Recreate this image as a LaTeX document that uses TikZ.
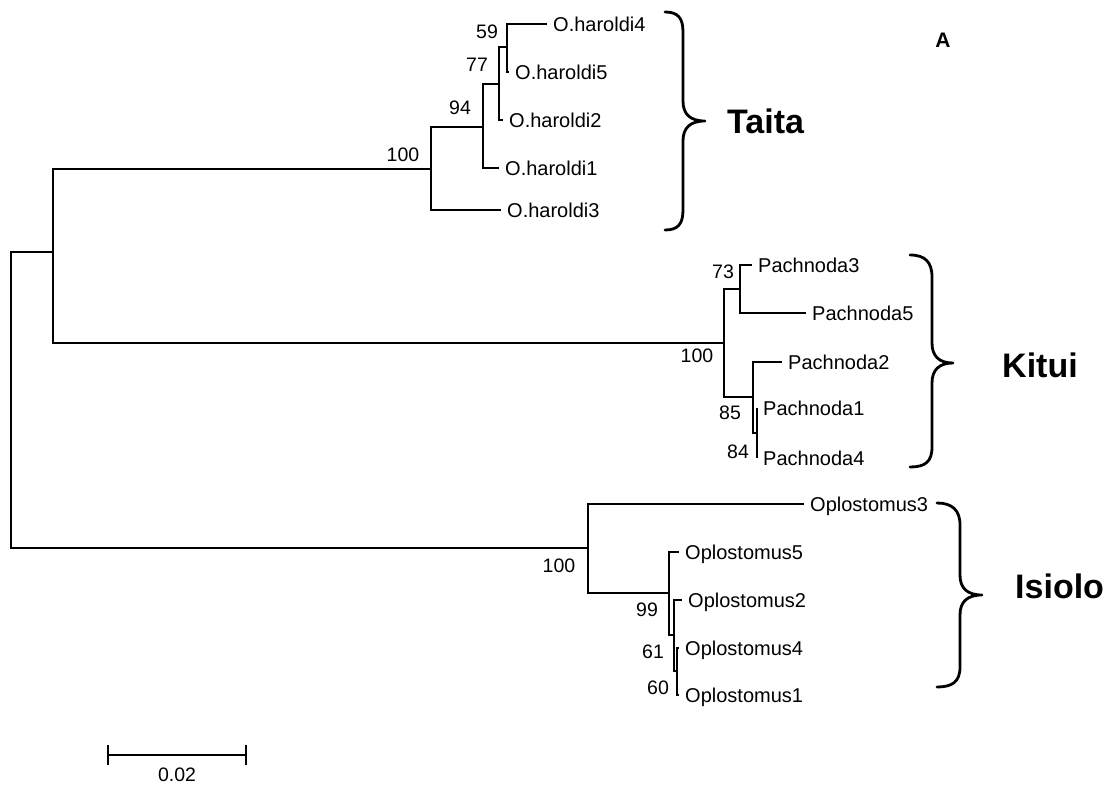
\documentclass[tikz,border=0pt]{standalone}
\usepackage{fontspec}
\setmainfont{Liberation Sans}
\begin{document}
\begin{tikzpicture}[x=1pt,y=-1pt,
  branch/.style={draw=black, line width=2.6pt},
  bracepath/.style={draw=black, line width=2.8pt, line cap=round, line join=round},
  leaf/.style={anchor=base west, inner sep=0pt, font=\fontsize{20}{24}\selectfont},
  bs/.style={inner sep=0pt, font=\fontsize{19.5}{24}\selectfont},
  clade/.style={anchor=base west, inner sep=0pt, font=\fontsize{34}{40}\selectfont\bfseries},
]
\useasboundingbox (0,0) rectangle (1112,787);
% internal nodes
\coordinate (root) at (11,400);
\coordinate (inner) at (53,252);
\coordinate (t100) at (431,169);
\coordinate (t94) at (483,127);
\coordinate (t77) at (499,84);
\coordinate (t59) at (507,47);
\coordinate (k100) at (724,343);
\coordinate (k73) at (740,289);
\coordinate (k85) at (753,397);
\coordinate (k84) at (757,433);
\coordinate (i100) at (588,548);
\coordinate (i99) at (669,593);
\coordinate (i61) at (674,635);
\coordinate (i60) at (677,671);
% leaf ends
\coordinate (h4e) at (547,24);
\coordinate (h5e) at (509,72);
\coordinate (h2e) at (503,120);
\coordinate (h1e) at (499,168);
\coordinate (h3e) at (501,210);
\coordinate (p3e) at (752,265);
\coordinate (p5e) at (806,313);
\coordinate (p2e) at (782,362);
\coordinate (p1e) at (757,408);
\coordinate (p4e) at (757,458);
\coordinate (o3e) at (804,504);
\coordinate (o5e) at (679,552);
\coordinate (o2e) at (682,600);
\coordinate (o4e) at (679,648);
\coordinate (o1e) at (679,695);
% branches
\draw[branch] (root) |- (inner);
\draw[branch] (root) |- (i100);
\draw[branch] (inner) |- (t100);
\draw[branch] (inner) |- (k100);
\draw[branch] (t100) |- (t94);
\draw[branch] (t100) |- (h3e);
\draw[branch] (t94) |- (t77);
\draw[branch] (t94) |- (h1e);
\draw[branch] (t77) |- (t59);
\draw[branch] (t77) |- (h2e);
\draw[branch] (t59) |- (h4e);
\draw[branch] (t59) |- (h5e);
\draw[branch] (k100) |- (k73);
\draw[branch] (k100) |- (k85);
\draw[branch] (k73) |- (p3e);
\draw[branch] (k73) |- (p5e);
\draw[branch] (k85) |- (p2e);
\draw[branch] (k85) |- (k84);
\draw[branch] (k84) |- (p1e);
\draw[branch] (k84) |- (p4e);
\draw[branch] (i100) |- (o3e);
\draw[branch] (i100) |- (i99);
\draw[branch] (i99) |- (o5e);
\draw[branch] (i99) |- (i61);
\draw[branch] (i61) |- (o2e);
\draw[branch] (i61) |- (i60);
\draw[branch] (i60) |- (o4e);
\draw[branch] (i60) |- (o1e);
% leaf labels
\node[leaf] (h4) at ([shift={(6,7)}]h4e) {O.haroldi4};
\node[leaf] (h5) at ([shift={(6,7)}]h5e) {O.haroldi5};
\node[leaf] (h2) at ([shift={(6,7)}]h2e) {O.haroldi2};
\node[leaf] (h1) at ([shift={(6,7)}]h1e) {O.haroldi1};
\node[leaf] (h3) at ([shift={(6,7)}]h3e) {O.haroldi3};
\node[leaf] (p3) at ([shift={(6,7)}]p3e) {Pachnoda3};
\node[leaf] (p5) at ([shift={(6,7)}]p5e) {Pachnoda5};
\node[leaf] (p2) at ([shift={(6,7)}]p2e) {Pachnoda2};
\node[leaf] (p1) at ([shift={(6,7)}]p1e) {Pachnoda1};
\node[leaf] (p4) at ([shift={(6,7)}]p4e) {Pachnoda4};
\node[leaf] (o3) at ([shift={(6,7)}]o3e) {Oplostomus3};
\node[leaf] (o5) at ([shift={(6,7)}]o5e) {Oplostomus5};
\node[leaf] (o2) at ([shift={(6,7)}]o2e) {Oplostomus2};
\node[leaf] (o4) at ([shift={(6,7)}]o4e) {Oplostomus4};
\node[leaf] (o1) at ([shift={(6,7)}]o1e) {Oplostomus1};
% bootstrap values
\node[bs] (b59) at (487,32) {59};
\node[bs] (b77) at (477,65) {77};
\node[bs] (b94) at (460,108) {94};
\node[bs] (bt100) at (403,155) {100};
\node[bs] (b73) at (723,272) {73};
\node[bs] (bk100) at (697,356) {100};
\node[bs] (b85) at (730,413) {85};
\node[bs] (b84) at (738,452) {84};
\node[bs] (bi100) at (559,566) {100};
\node[bs] (b99) at (647,610) {99};
\node[bs] (b61) at (653,652) {61};
\node[bs] (b60) at (658,688) {60};
% braces
\draw[bracepath] (665,12) .. controls (678,12) and (683,18) .. (683,32) -- (683,101)
  .. controls (683,114) and (690,121) .. (705,121)
  .. controls (690,121) and (683,128) .. (683,141) -- (683,210)
  .. controls (683,224) and (678,230) .. (665,230);
\draw[bracepath] (910,255) .. controls (925,255) and (932,262) .. (932,277) -- (932,343)
  .. controls (932,356) and (939,363) .. (953,363)
  .. controls (939,363) and (932,370) .. (932,383) -- (932,447)
  .. controls (932,462) and (925,467) .. (910,467);
\draw[bracepath] (937,503) .. controls (952,503) and (960,510) .. (960,525) -- (960,575)
  .. controls (960,588) and (967,595) .. (982,595)
  .. controls (967,595) and (960,602) .. (960,615) -- (960,667)
  .. controls (960,682) and (952,687) .. (937,687);
% clade names
\node[clade] (taita) at (727,133) {Taita};
\node[clade] (kitui) at (1002,377) {Kitui};
\node[clade] (isiolo) at (1015,598) {Isiolo};
\node[inner sep=0pt, font=\fontsize{21}{24}\selectfont\bfseries] (panel) at (943,40) {A};
% scale bar
\coordinate (sbL) at (108,755);
\coordinate (sbR) at (246,755);
\draw[branch] (sbL) -- (sbR);
\draw[branch] ([yshift=-10]sbL) -- ([yshift=10]sbL);
\draw[branch] ([yshift=-10]sbR) -- ([yshift=10]sbR);
\node[bs] (sblabel) at (177,775) {0.02};
\end{tikzpicture}
\end{document}
